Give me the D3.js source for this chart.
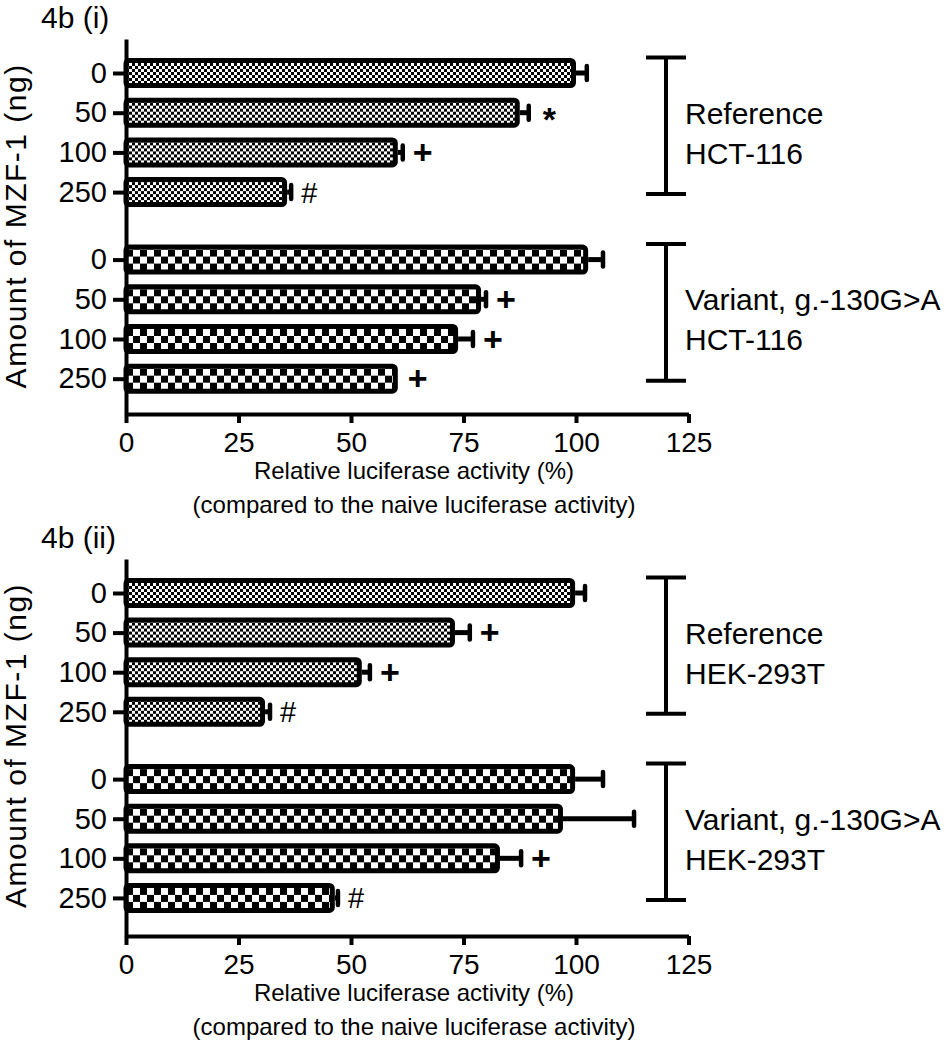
<!DOCTYPE html>
<html><head><meta charset="utf-8">
<script src="https://cdn.jsdelivr.net/npm/d3@7"></script>
<style>
body{margin:0;background:#fff}
svg{display:block}
text{font-family:"Liberation Sans",Arial,Helvetica,sans-serif;fill:#000}
</style>
</head><body><svg id="c" width="950" height="1050"></svg>
<script>
// ---------- data ----------
const doses = ["0", "50", "100", "250"];
const xTicks = [0, 25, 50, 75, 100, 125];
const hctRefMean = [100, 87.5, 60.4, 35.8];
const hctRefErr  = [2.4, 2.0, 1.1, 0.9];
const hctRefSig  = ["", "*", "+", "#"];
const hctVarMean = [102.7, 78.9, 73.8, 60.4];
const hctVarErr  = [3.3, 1.1, 3.3, 0];
const hctVarSig  = ["", "+", "+", "+"];
const hekRefMean = [99.8, 73.1, 52.4, 30.9];
const hekRefErr  = [2.2, 3.3, 1.8, 1.1];
const hekRefSig  = ["", "+", "+", "#"];
const hekVarMean = [99.8, 97.1, 83.1, 46.4];
const hekVarErr  = [6.2, 15.8, 4.7, 0.7];
const hekVarSig  = ["", "", "+", "#"];
const panelTitles = ["4b (i)", "4b (ii)"];
const cellLines = ["HCT-116", "HEK-293T"];
const groupNames = ["Reference", "Variant, g.-130G>A"];
const yTitle = "Amount of MZF-1 (ng)";
const xTitle1 = "Relative luciferase activity (%)";
const xTitle2 = "(compared to the naive luciferase activity)";

const panelData = [
  [{mean: hctRefMean, err: hctRefErr, sig: hctRefSig}, {mean: hctVarMean, err: hctVarErr, sig: hctVarSig}],
  [{mean: hekRefMean, err: hekRefErr, sig: hekRefSig}, {mean: hekVarMean, err: hekVarErr, sig: hekVarSig}]
];

// ---------- layout ----------
const layout = [
  {top: 39, axisY: 414, row0: 73, step: 39.7},
  {top: 559, axisY: 936, row0: 593, step: 39.6}
];
const groupOffset = 4.7;
const cellSize = [3, 7];   // fine checker for reference, coarse for variant

const svg = d3.select("#c");
const defs = svg.append("defs");
let patId = 0;

layout.forEach((L, p) => {
  const g = svg.append("g");
  const x = d3.scaleLinear().domain([0, 125]).range([126, 688.5]);
  const y = d3.scaleLinear()
    .domain([(L.top - L.row0) / L.step, (L.axisY - L.row0) / L.step])
    .range([L.top, L.axisY]);

  const rows = [];
  panelData[p].forEach((grp, gi) => {
    doses.forEach((d, i) => {
      rows.push({slot: gi * groupOffset + i, dose: d, mean: grp.mean[i], err: grp.err[i], sig: grp.sig[i], gi});
    });
  });

  // bars
  rows.forEach(r => {
    const yc = y(r.slot);
    const cs = cellSize[r.gi];
    const id = "pat" + (patId++);
    const pat = defs.append("pattern").attr("id", id).attr("patternUnits", "userSpaceOnUse")
      .attr("x", x(0)).attr("y", yc - 10).attr("width", cs * 2).attr("height", cs * 2);
    pat.append("rect").attr("width", cs * 2).attr("height", cs * 2).attr("fill", "#fff");
    pat.append("rect").attr("width", cs).attr("height", cs).attr("fill", "#000");
    pat.append("rect").attr("x", cs).attr("y", cs).attr("width", cs).attr("height", cs).attr("fill", "#000");

    if (r.err > 0) {
      g.append("line").attr("x1", x(r.mean)).attr("x2", x(r.mean + r.err))
        .attr("y1", yc).attr("y2", yc).attr("stroke", "#000").attr("stroke-width", 5);
      g.append("line").attr("x1", x(r.mean + r.err)).attr("x2", x(r.mean + r.err))
        .attr("y1", yc - 7).attr("y2", yc + 7).attr("stroke", "#000").attr("stroke-width", 4.5)
        .attr("stroke-linecap", "round");
    }
    g.append("rect").attr("x", x(0)).attr("y", yc - 12.5)
      .attr("width", x(r.mean) - x(0) - 2.5).attr("height", 25)
      .attr("rx", 3).attr("fill", `url(#${id})`).attr("stroke", "#000").attr("stroke-width", 5);

    if (r.sig) {
      const sx = x(r.mean + r.err) + (r.err > 0 ? 10 : 10);
      const t = g.append("text").attr("x", sx).attr("y", yc).text(r.sig);
      if (r.sig === "*") t.attr("x", sx + 4).attr("font-size", 34).attr("font-weight", "bold").attr("dy", "0.55em");
      else if (r.sig === "+") t.attr("font-size", 34).attr("font-weight", "bold").attr("dy", "0.34em");
      else t.attr("font-size", 29).attr("dy", "0.36em");
    }
  });

  // x axis
  const xa = g.append("g").attr("transform", `translate(0,${L.axisY})`)
    .call(d3.axisBottom(x).tickValues(xTicks).tickFormat(d3.format("d")).tickSize(9).tickSizeOuter(0).tickPadding(9));
  xa.select(".domain").attr("stroke", "#000").attr("stroke-width", 4);
  xa.selectAll(".tick line").attr("stroke", "#000").attr("stroke-width", 4);
  xa.selectAll(".tick text").attr("font-size", 28).attr("font-family", null).attr("fill", "#000");

  // y axis
  const slots = rows.map(r => r.slot);
  const ya = g.append("g").attr("transform", `translate(${x(0)},0)`)
    .call(d3.axisLeft(y).tickValues(slots).tickFormat((d, i) => rows[i].dose).tickSize(13).tickSizeOuter(0).tickPadding(6));
  ya.select(".domain").attr("stroke", "#000").attr("stroke-width", 4);
  ya.selectAll(".tick line").attr("stroke", "#000").attr("stroke-width", 4);
  ya.selectAll(".tick text").attr("font-size", 29).attr("font-family", null).attr("fill", "#000");

  // brackets
  [0, 1].forEach(gi => {
    const top = y(gi * groupOffset) - 15.5;
    const bot = y(gi * groupOffset + 3) + 2;
    const bx = 666;
    g.append("line").attr("x1", bx).attr("x2", bx).attr("y1", top).attr("y2", bot).attr("stroke", "#000").attr("stroke-width", 4);
    g.append("line").attr("x1", bx - 20).attr("x2", bx + 20).attr("y1", top).attr("y2", top).attr("stroke", "#000").attr("stroke-width", 4);
    g.append("line").attr("x1", bx - 20).attr("x2", bx + 20).attr("y1", bot).attr("y2", bot).attr("stroke", "#000").attr("stroke-width", 4);
    const mid = (top + bot) / 2;
    g.append("text").attr("x", 685).attr("y", mid - 2).attr("font-size", 30).text(groupNames[gi]);
    g.append("text").attr("x", 685).attr("y", mid + 38).attr("font-size", 30).text(cellLines[p]);
  });

  // titles
  g.append("text").attr("x", 41).attr("y", L.top - 11).attr("font-size", 30).text(panelTitles[p]);
  const yMid = (y(0) + y(3 + groupOffset)) / 2;
  g.append("text").attr("transform", `translate(26,${yMid}) rotate(-90)`).attr("text-anchor", "middle")
    .attr("font-size", 30).attr("letter-spacing", 1.5).text(yTitle);
  g.append("text").attr("x", 414).attr("y", L.axisY + 65).attr("text-anchor", "middle").attr("font-size", 24).text(xTitle1);
  g.append("text").attr("x", 414).attr("y", L.axisY + 99).attr("text-anchor", "middle").attr("font-size", 24).text(xTitle2);
});
</script>
</body></html>
